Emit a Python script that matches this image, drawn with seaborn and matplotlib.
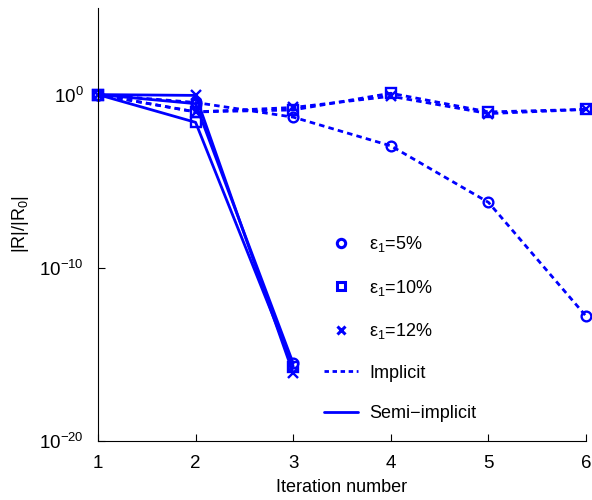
import numpy as np
import pandas as pd
import matplotlib
matplotlib.use("Agg")
import matplotlib.pyplot as plt
import seaborn as sns
from matplotlib.lines import Line2D

iterations = [1, 2, 3, 4, 5, 6]
iterations_semi = [1, 2, 3]

implicit_5 = [1.0, 0.35, 0.05, 1.1e-3, 6e-7, 1.6e-13]
implicit_10 = [1.0, 0.1, 0.13, 1.2, 0.1, 0.14]
implicit_12 = [1.0, 0.1, 0.18, 0.8, 0.08, 0.14]
semi_5 = [1.0, 0.3, 3e-16]
semi_10 = [1.0, 0.025, 2e-16]
semi_12 = [1.0, 0.9, 8e-17]

labels = ["ε$_1$=5%", "ε$_1$=10%", "ε$_1$=12%"]
markers = ["o", "s", "x"]

sns.set_style("ticks")
plt.rcParams["font.family"] = ["Liberation Sans", "DejaVu Sans"]
plt.rcParams["mathtext.fontset"] = "custom"
plt.rcParams["mathtext.rm"] = "Liberation Sans"
plt.rcParams["mathtext.it"] = "Liberation Sans:italic"
plt.rcParams["mathtext.default"] = "regular"
plt.rcParams["text.color"] = "black"
plt.rcParams["axes.labelcolor"] = "black"
plt.rcParams["xtick.color"] = "black"
plt.rcParams["ytick.color"] = "black"
plt.rcParams["axes.edgecolor"] = "black"

blue = "#0000ff"
fig = plt.figure(figsize=(5.92, 5.0), dpi=100)
ax = fig.add_axes([0.1655, 0.118, 0.8245, 0.866])

dash = (0, (2.0, 1.5))
for vals, m in zip([implicit_5, implicit_10, implicit_12], markers):
    df = pd.DataFrame({"x": iterations, "y": vals})
    sns.lineplot(data=df, x="x", y="y", ax=ax, color=blue, lw=2.0, linestyle=dash,
                 marker=m, markersize=7, markerfacecolor="none", markeredgecolor=blue,
                 markeredgewidth=1.7, clip_on=False)
for vals, m in zip([semi_5, semi_10, semi_12], markers):
    df = pd.DataFrame({"x": iterations_semi, "y": vals})
    sns.lineplot(data=df, x="x", y="y", ax=ax, color=blue, lw=2.0, linestyle="-",
                 marker=m, markersize=7, markerfacecolor="none", markeredgecolor=blue,
                 markeredgewidth=1.7, clip_on=False)

ax.set_yscale("log")
ax.set_ylim(1e-20, 1e5)
ax.set_xlim(1, 6)
ax.set_xticks(iterations)
ax.set_yticks([1e-20, 1e-10, 1e0])
ax.yaxis.set_minor_locator(matplotlib.ticker.NullLocator())
ax.tick_params(direction="in", length=5, width=0.8, labelsize=13.5)
ax.tick_params(axis="x", pad=10)
ax.tick_params(axis="y", pad=10)
ax.set_xlabel("Iteration number", fontsize=13, labelpad=5)
ax.set_ylabel("|R|/|R$_0$|", fontsize=13, labelpad=6)
sns.despine(ax=ax)
for s in ["left", "bottom"]:
    ax.spines[s].set_linewidth(0.8)

handles = [Line2D([], [], ls="none", marker=m, color=blue, markersize=6,
                  markerfacecolor="none", markeredgewidth=2.2) for m in markers]
handles += [Line2D([], [], ls=(0, (1.6, 1.3)), color=blue, lw=2.0),
            Line2D([], [], ls="-", color=blue, lw=2.0)]
ax.legend(handles, labels + ["Implicit", "Semi\u2212implicit"], loc="upper left",
          bbox_to_anchor=(0.43, 0.515), frameon=False, fontsize=13,
          labelspacing=1.3, handlelength=1.9, handletextpad=0.6)

fig.savefig("out.png", dpi=100)
